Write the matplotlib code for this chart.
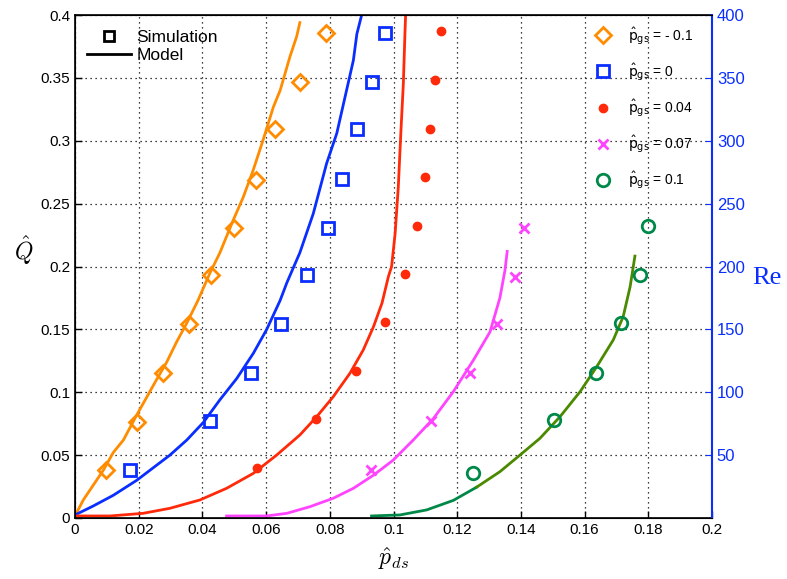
import matplotlib
matplotlib.use('Agg')
import matplotlib.pyplot as plt
from matplotlib.lines import Line2D
from matplotlib.ticker import FuncFormatter

plt.rcParams['mathtext.fontset'] = 'cm'
plt.rcParams['font.family'] = ['Liberation Sans', 'DejaVu Sans']

# simulation points (p_ds, Q) for each p_gs
sim_neg01_x = [0.0097, 0.0195, 0.0276, 0.0358, 0.0427, 0.0499, 0.0568, 0.0628, 0.0706, 0.0788]
sim_neg01_q = [0.038, 0.076, 0.115, 0.154, 0.193, 0.231, 0.269, 0.309, 0.347, 0.386]
sim_0_x = [0.0173, 0.0424, 0.0553, 0.0647, 0.0728, 0.0794, 0.0838, 0.0885, 0.0932, 0.0973]
sim_0_q = [0.038, 0.077, 0.115, 0.154, 0.193, 0.231, 0.270, 0.309, 0.347, 0.386]
sim_004_x = [0.0571, 0.0757, 0.0882, 0.0973, 0.1036, 0.1074, 0.1099, 0.1115, 0.1130, 0.1149]
sim_004_q = [0.040, 0.079, 0.117, 0.156, 0.194, 0.232, 0.271, 0.309, 0.348, 0.387]
sim_007_x = [0.0929, 0.1118, 0.1240, 0.1325, 0.1381, 0.1410]
sim_007_q = [0.038, 0.077, 0.115, 0.154, 0.192, 0.231]
sim_01_x = [0.1250, 0.1504, 0.1635, 0.1714, 0.1774, 0.1800]
sim_01_q = [0.036, 0.078, 0.115, 0.155, 0.193, 0.232]

# model curves
mod_neg01_x = [0.0, 0.0026, 0.0057, 0.0089, 0.0120, 0.0152, 0.0194, 0.0225, 0.0256, 0.0288,
               0.0319, 0.0351, 0.0386, 0.0424, 0.0455, 0.0497, 0.0528, 0.0560, 0.0591, 0.0623,
               0.0644, 0.0675, 0.0696, 0.0706]
mod_neg01_q = [0.0016, 0.0143, 0.026, 0.038, 0.052, 0.062, 0.082, 0.096, 0.110, 0.124,
               0.140, 0.155, 0.173, 0.195, 0.211, 0.237, 0.255, 0.277, 0.301, 0.327,
               0.340, 0.367, 0.383, 0.394]
mod_0_x = [0.0, 0.0057, 0.0120, 0.0194, 0.0246, 0.0298, 0.0351, 0.0403, 0.0455, 0.0508,
           0.0560, 0.0602, 0.0644, 0.0665, 0.0706, 0.0748, 0.0790, 0.0822, 0.0848, 0.0874,
           0.0885, 0.0900]
mod_0_q = [0.0024, 0.0095, 0.018, 0.030, 0.040, 0.050, 0.062, 0.076, 0.094, 0.111,
           0.131, 0.150, 0.173, 0.187, 0.211, 0.242, 0.282, 0.306, 0.335, 0.364,
           0.385, 0.400]
mod_004_x = [0.0, 0.0110, 0.0214, 0.0298, 0.0392, 0.0476, 0.0560, 0.0633, 0.0706, 0.0759,
             0.0811, 0.0863, 0.0905, 0.0937, 0.0964, 0.0984, 0.0994, 0.1005, 0.1015, 0.1023,
             0.1031, 0.1036, 0.1038]
mod_004_q = [0.0016, 0.0016, 0.0037, 0.0077, 0.0143, 0.0236, 0.0355, 0.050, 0.066, 0.0806,
             0.0965, 0.115, 0.1336, 0.152, 0.171, 0.192, 0.200, 0.226, 0.263, 0.306,
             0.346, 0.386, 0.400]
mod_007_x = [0.0476, 0.0602, 0.0665, 0.0738, 0.0811, 0.0874, 0.0937, 0.0999, 0.1062, 0.1125,
             0.1188, 0.1251, 0.1303, 0.1334, 0.1350, 0.1357]
mod_007_q = [0.0016, 0.0016, 0.0037, 0.009, 0.0157, 0.0236, 0.034, 0.046, 0.062, 0.079,
             0.1005, 0.1256, 0.148, 0.175, 0.197, 0.212]
mod_01a_x = [0.0931, 0.1020, 0.1104, 0.1188, 0.1261]
mod_01a_q = [0.0016, 0.0024, 0.0064, 0.0140, 0.0245]
mod_01b_x = [0.1261, 0.1334, 0.1397, 0.1460, 0.1523, 0.1586, 0.1638, 0.1690, 0.1721, 0.1743,
             0.1758]
mod_01b_q = [0.0245, 0.0368, 0.050, 0.0634, 0.0806, 0.1005, 0.1203, 0.1416, 0.160, 0.184,
             0.2083]

c_orange = '#FF8C00'
c_blue = '#0A2EFF'
c_red = '#FF2A0A'
c_mag = '#FF44FF'
c_green = '#008848'
c_olive = '#4B8A00'

fig = plt.figure(figsize=(7.87, 5.79), dpi=100)
ax = fig.add_axes([0.0953, 0.1054, 0.8094, 0.8686])

lw = 2.0
ax.plot(mod_neg01_x, mod_neg01_q, color=c_orange, lw=lw)
ax.plot(mod_0_x, mod_0_q, color=c_blue, lw=lw)
ax.plot(mod_004_x, mod_004_q, color=c_red, lw=lw)
ax.plot(mod_007_x, mod_007_q, color=c_mag, lw=lw)
ax.plot(mod_01a_x, mod_01a_q, color=c_green, lw=lw)
ax.plot(mod_01b_x, mod_01b_q, color=c_olive, lw=lw)

h1, = ax.plot(sim_neg01_x, sim_neg01_q, 'D', ms=8, mfc='none', mec=c_orange, mew=2, ls='none')
h2, = ax.plot(sim_0_x, sim_0_q, 's', ms=9, mfc='none', mec=c_blue, mew=2, ls='none')
h3, = ax.plot(sim_004_x, sim_004_q, 'o', ms=6, color=c_red, ls='none')
h4, = ax.plot(sim_007_x, sim_007_q, 'x', ms=7, mec=c_mag, mew=2, ls='none')
h5, = ax.plot(sim_01_x, sim_01_q, 'o', ms=9, mfc='none', mec=c_green, mew=2, ls='none')

ax.set_xlim(0, 0.2)
ax.set_ylim(0, 0.4)
ax.set_xticks([0, 0.02, 0.04, 0.06, 0.08, 0.1, 0.12, 0.14, 0.16, 0.18, 0.2])
ax.set_yticks([0, 0.05, 0.1, 0.15, 0.2, 0.25, 0.3, 0.35, 0.4])
fmt = FuncFormatter(lambda v, p: '%g' % round(v, 3))
ax.xaxis.set_major_formatter(fmt)
ax.yaxis.set_major_formatter(fmt)
ax.tick_params(direction='in', labelsize=11, length=5, width=1)
ax.grid(True, color='black', linestyle=(0, (1, 3)), linewidth=0.9)
for s in ax.spines.values():
    s.set_linewidth(1.2)

ax.set_xlabel(r'$\hat{p}_{ds}$', fontsize=17, labelpad=6)
ax.set_ylabel(r'$\hat{Q}$', fontsize=17, rotation=0, labelpad=12)

# Reynolds number on the right
ax2 = ax.twinx()
ax2.set_ylim(0, 400)
ax2.set_yticks([50, 100, 150, 200, 250, 300, 350, 400])
ax2.tick_params(direction='in', colors=c_blue, labelsize=12, length=5)
ax2.spines['right'].set_color(c_blue)
ax2.spines['right'].set_linewidth(1.5)
ax2.set_ylabel('Re', color=c_blue, fontsize=19, rotation=0, family='Liberation Serif', labelpad=16)

leg1 = ax2.legend([Line2D([], [], marker='s', ls='none', mfc='none', mec='black', mew=2, ms=7),
                   Line2D([], [], color='black', lw=2)],
                  ['Simulation', 'Model'], loc='upper left', frameon=False, fontsize=12.5,
                  handlelength=2.5, borderaxespad=0.3, labelspacing=0.15, handletextpad=0.35,
                  bbox_to_anchor=(0.0, 0.995))
ax2.add_artist(leg1)
labels = [r'$\hat{\mathrm{p}}_{\mathrm{gs}}$ = - 0.1', r'$\hat{\mathrm{p}}_{\mathrm{gs}}$ = 0',
          r'$\hat{\mathrm{p}}_{\mathrm{gs}}$ = 0.04', r'$\hat{\mathrm{p}}_{\mathrm{gs}}$ = 0.07',
          r'$\hat{\mathrm{p}}_{\mathrm{gs}}$ = 0.1']
ax2.legend([h1, h2, h3, h4, h5], labels, loc='upper right', frameon=False,
           labelspacing=1.05, handletextpad=0.8, bbox_to_anchor=(0.99, 1.005),
           prop={'family': ['Liberation Sans'], 'size': 10, 'math_fontfamily': 'dejavusans'},
           numpoints=1)

fig.savefig('out.png', dpi=100)
